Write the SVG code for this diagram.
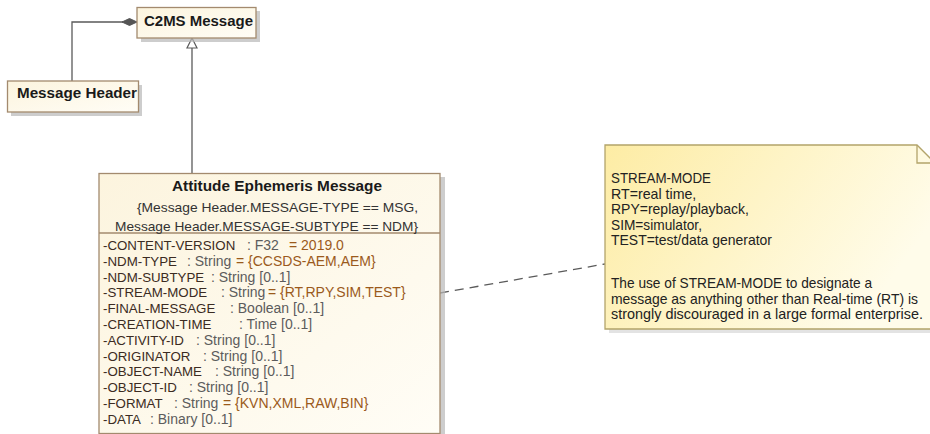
<svg xmlns="http://www.w3.org/2000/svg" width="930" height="434" viewBox="0 0 930 434">
<defs>
<linearGradient id="cls" x1="0" y1="0" x2="1" y2="1">
<stop offset="0" stop-color="#fcf4de"/>
<stop offset="1" stop-color="#fffdf6"/>
</linearGradient>
<linearGradient id="note" x1="0" y1="0" x2="1" y2="0.4">
<stop offset="0" stop-color="#fdeca4"/>
<stop offset="1" stop-color="#fffcea"/>
</linearGradient>
<style>
.box{fill:url(#cls);stroke:#a38a6e;stroke-width:1.3}
.shadow{fill:#b8b8b8;opacity:0.7}
.title{font-family:"Liberation Sans",Arial,sans-serif;font-weight:bold;font-size:14px;fill:#1a1a1a}
.t{font-family:"Liberation Sans",Arial,sans-serif;font-size:13px;fill:#333}
.attr{font-family:"Liberation Sans",Arial,sans-serif;font-size:14px}
.nm{fill:#3b2b22;font-size:13.3px}
.ty{fill:#5c5c5c}
.val{fill:#9b5a1c}
.conn{fill:none;stroke:#5a5a5a;stroke-width:1.3}
.nt{font-family:"Liberation Sans",Arial,sans-serif;font-size:14.2px;fill:#222}
</style>
</defs>
<g id="connectors">
<polyline class="conn" points="72,81 72,22 123,22"/>
<polygon points="122,22 129.5,18.5 137,22 129.5,25.5" fill="#555" stroke="#555" stroke-width="1"/>
<line class="conn" x1="192" y1="48" x2="192" y2="173"/>
<polygon points="192,38 197,48 187,48" fill="#fff" stroke="#5a5a5a" stroke-width="1.2"/>
<line class="conn" x1="440" y1="293" x2="605" y2="264" stroke-dasharray="9,6"/>
<circle cx="437" cy="293" r="2.6" fill="#fff" stroke="#9a7a60" stroke-width="1.2"/>
</g>
<g id="c2ms-message">
<rect class="shadow" x="141" y="11" width="119" height="31"/>
<rect class="box" x="137" y="7.5" width="119" height="30.5"/>
<text class="title" x="144" y="25.5" font-size="15" textLength="109" lengthAdjust="spacingAndGlyphs">C2MS Message</text>
</g>
<g id="message-header">
<rect class="shadow" x="11" y="85" width="131" height="31"/>
<rect class="box" x="7.5" y="81" width="131" height="31"/>
<text class="title" x="17" y="98" font-size="15" textLength="120" lengthAdjust="spacingAndGlyphs">Message Header</text>
</g>
<g id="attitude-ephemeris-message">
<rect class="shadow" x="103" y="177" width="342" height="262"/>
<rect class="box" x="99" y="173.5" width="341" height="260"/>
<line x1="99" y1="233" x2="440" y2="233" stroke="#a38a6e" stroke-width="1.3"/>
<text class="title" x="172" y="191" textLength="210" lengthAdjust="spacingAndGlyphs">Attitude Ephemeris Message</text>
<text class="t" x="137" y="212" textLength="281" lengthAdjust="spacingAndGlyphs">{Message Header.MESSAGE-TYPE == MSG,</text>
<text class="t" x="115" y="231" textLength="303" lengthAdjust="spacingAndGlyphs">Message Header.MESSAGE-SUBTYPE == NDM}</text>
<g class="attr">
<text x="103" y="250"><tspan class="nm">-CONTENT-VERSION</tspan><tspan class="ty" x="247">: F32</tspan><tspan class="val" x="289">= 2019.0</tspan></text>
<text x="103" y="265.8"><tspan class="nm">-NDM-TYPE</tspan><tspan class="ty" x="187">: String</tspan><tspan class="val" x="236">= {CCSDS-AEM,AEM}</tspan></text>
<text x="103" y="281.6"><tspan class="nm">-NDM-SUBTYPE</tspan><tspan class="ty" x="211">: String [0..1]</tspan></text>
<text x="103" y="297.4"><tspan class="nm">-STREAM-MODE</tspan><tspan class="ty" x="221">: String</tspan><tspan class="val" x="268">= {RT,RPY,SIM,TEST}</tspan></text>
<text x="103" y="313.2"><tspan class="nm">-FINAL-MESSAGE</tspan><tspan class="ty" x="230">: Boolean [0..1]</tspan></text>
<text x="103" y="329"><tspan class="nm">-CREATION-TIME</tspan><tspan class="ty" x="239">: Time [0..1]</tspan></text>
<text x="103" y="344.8"><tspan class="nm">-ACTIVITY-ID</tspan><tspan class="ty" x="196">: String [0..1]</tspan></text>
<text x="103" y="360.6"><tspan class="nm">-ORIGINATOR</tspan><tspan class="ty" x="203">: String [0..1]</tspan></text>
<text x="103" y="376.4"><tspan class="nm">-OBJECT-NAME</tspan><tspan class="ty" x="215">: String [0..1]</tspan></text>
<text x="103" y="392.2"><tspan class="nm">-OBJECT-ID</tspan><tspan class="ty" x="189">: String [0..1]</tspan></text>
<text x="103" y="408"><tspan class="nm">-FORMAT</tspan><tspan class="ty" x="174">: String</tspan><tspan class="val" x="223">= {KVN,XML,RAW,BIN}</tspan></text>
<text x="103" y="423.8"><tspan class="nm">-DATA</tspan><tspan class="ty" x="150">: Binary [0..1]</tspan></text>
</g>
</g>
<g id="note">
<polygon points="609,149 921,149 939,167 939,333 609,333" fill="#c8c8c8" opacity="0.5"/>
<polygon points="605,145 917,145 935,163 935,329 605,329" fill="url(#note)" stroke="#b3a46a" stroke-width="1.3"/>
<polyline points="917,145 917,163 935,163" fill="none" stroke="#b3a46a" stroke-width="1.3"/>
<g class="nt">
<text x="611" y="183" textLength="100" lengthAdjust="spacingAndGlyphs">STREAM-MODE</text>
<text x="611" y="198.5">RT=real time,</text>
<text x="611" y="214" textLength="138" lengthAdjust="spacingAndGlyphs">RPY=replay/playback,</text>
<text x="611" y="229.5" textLength="91" lengthAdjust="spacingAndGlyphs">SIM=simulator,</text>
<text x="611" y="245" textLength="161" lengthAdjust="spacingAndGlyphs">TEST=test/data generator</text>
<text x="611" y="288" textLength="261" lengthAdjust="spacingAndGlyphs">The use of STREAM-MODE to designate a</text>
<text x="611" y="303.5" textLength="307" lengthAdjust="spacingAndGlyphs">message as anything other than Real-time (RT) is</text>
<text x="611" y="319" textLength="312" lengthAdjust="spacingAndGlyphs">strongly discouraged in a large formal enterprise.</text>
</g>
</g>
</svg>
